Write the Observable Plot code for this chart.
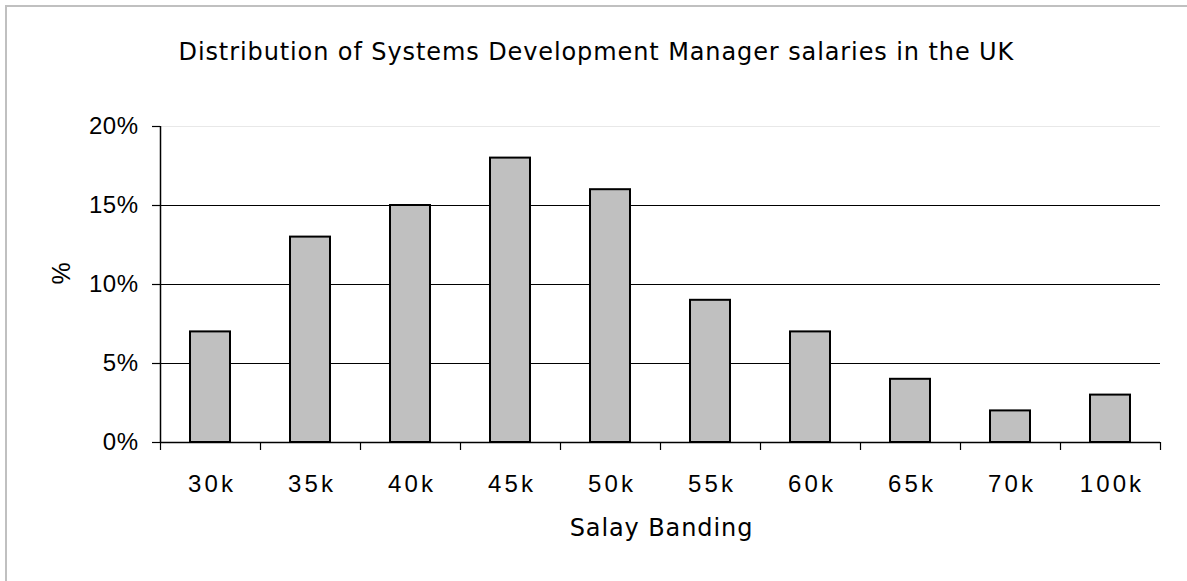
<!DOCTYPE html>
<html>
<head>
<meta charset="utf-8">
<script src="https://cdn.jsdelivr.net/npm/d3@7"></script>
<script src="https://cdn.jsdelivr.net/npm/@observablehq/plot@0.6"></script>
<style>
  html, body { margin: 0; padding: 0; background: white; }
  #wrap { position: relative; width: 1187px; height: 581px; overflow: hidden; }
  #border { position: absolute; left: 5px; top: 5px; width: 3000px; height: 3000px;
            border-left: 2px solid #c0c0c0; border-top: 2px solid #c0c0c0; pointer-events: none; }
  g[aria-label="x-axis tick label"] text { letter-spacing: 3.1px; }
  g[aria-label="y-axis tick label"] text { letter-spacing: 0.5px; }
</style>
</head>
<body>
<div id="wrap"><div id="border"></div></div>
<script>
const title = "Distribution of Systems Development Manager salaries in the UK";
const xLabel = "Salay Banding";
const yLabel = "%";
const categories = ["30k", "35k", "40k", "45k", "50k", "55k", "60k", "65k", "70k", "100k"];
const values = [7, 13, 15, 18, 16, 9, 7, 4, 2, 3];
const yTicks = [0, 5, 10, 15, 20];
const gridBlack = [5, 10, 15];
const gridLight = [20];

const data = categories.map((c, i) => ({cat: c, i, v: values[i]}));
const boundaries = d3.range(categories.length + 1);

const tickFont = "Liberation Sans, Arial, sans-serif";
const titleFont = "DejaVu Sans, Verdana, sans-serif";

const chart = Plot.plot({
  width: 1187,
  height: 581,
  marginLeft: 160,
  marginRight: 27,
  marginTop: 126,
  marginBottom: 139,
  style: {background: "transparent", color: "black"},
  x: {type: "linear", domain: [0, categories.length]},
  y: {domain: [0, 20]},
  marks: [
    Plot.ruleY(gridLight, {stroke: "#e8e8e8", strokeWidth: 1}),
    Plot.ruleY(gridBlack, {stroke: "black", strokeWidth: 1}),
    Plot.rectY(data, {x1: d => d.i + 0.3, x2: d => d.i + 0.7, y1: 0, y2: "v",
      fill: "#c0c0c0", stroke: "black", strokeWidth: 2}),
    Plot.ruleY([0], {stroke: "black", strokeWidth: 1.5}),
    Plot.ruleX([0], {y1: 0, y2: 20, stroke: "black", strokeWidth: 1.5}),
    Plot.axisY({ticks: yTicks, tickSize: 8, tickPadding: 14, tickFormat: d => d + "%",
      fontSize: 24, fontFamily: tickFont, strokeWidth: 1.2, label: null}),
    Plot.axisX({ticks: boundaries, tickSize: 8, tickFormat: () => "", strokeWidth: 1.2, label: null}),
    Plot.axisX({ticks: data.map(d => d.i + 0.5), tickSize: 0, tickPadding: 32, dx: 1.5,
      tickFormat: (d) => categories[Math.floor(d)], fontSize: 24, fontFamily: tickFont, label: null}),
    Plot.text([title], {frameAnchor: "top-left", dx: 18, dy: -74,
      textAnchor: "start", lineAnchor: "middle", fontSize: 24, fontFamily: titleFont}),
    Plot.text([xLabel], {frameAnchor: "bottom", dy: 86, dx: 1,
      lineAnchor: "middle", fontSize: 24, fontFamily: titleFont}),
    Plot.text([yLabel], {frameAnchor: "left", dx: -99, rotate: -90,
      lineAnchor: "middle", fontSize: 25, fontFamily: tickFont})
  ]
});
chart.querySelectorAll("text").forEach(t => {
  if (t.textContent === title || t.textContent === xLabel) t.style.letterSpacing = "0.9px";
});
chart.style.position = "absolute";
chart.style.left = "0px";
chart.style.top = "0px";
document.getElementById("wrap").prepend(chart);
</script>
</body>
</html>
